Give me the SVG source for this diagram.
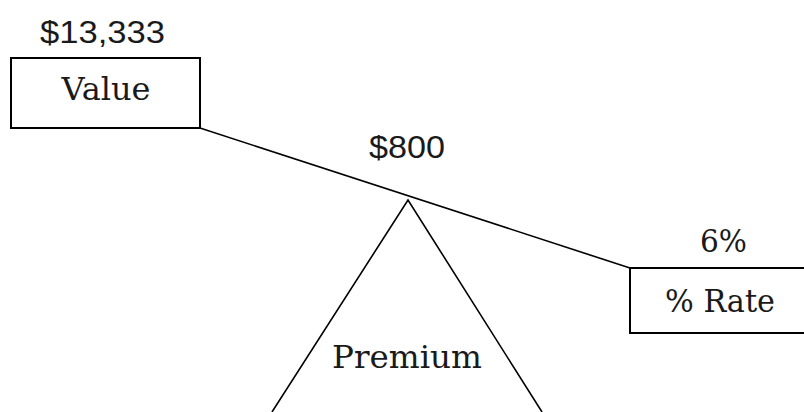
<svg xmlns="http://www.w3.org/2000/svg" width="804" height="412" viewBox="0 0 804 412">
<style>
.box{fill:#fff;stroke:#000;stroke-width:2}
.ln{fill:none;stroke:#000;stroke-width:1.6}
.serif{font-family:"DejaVu Serif","Liberation Serif",serif;font-size:32px;fill:#1a1a1a}
.sans{font-family:"Liberation Sans",Arial,sans-serif;font-size:32px;fill:#1a1a1a}
</style>
<rect width="804" height="412" fill="#fff"/>
<g id="connectors">
<line class="ln" x1="200" y1="128" x2="630" y2="268"/>
<polyline class="ln" points="272,412 408,200 542,412"/>
</g>
<g id="value">
<rect class="box" x="11" y="58" width="189" height="70"/>
<text class="serif" x="106" y="100" text-anchor="middle">Value</text>
<text class="sans" x="40" y="43" textLength="125" lengthAdjust="spacingAndGlyphs">$13,333</text>
</g>
<g id="premium">
<text class="sans" x="369" y="158" textLength="76" lengthAdjust="spacingAndGlyphs">$800</text>
<text class="serif" x="332" y="368" textLength="150" lengthAdjust="spacingAndGlyphs">Premium</text>
</g>
<g id="rate">
<rect class="box" x="630" y="268" width="180" height="65"/>
<text class="serif" x="665" y="312" textLength="110" lengthAdjust="spacingAndGlyphs">% Rate</text>
<text class="serif" x="700" y="252" textLength="47" lengthAdjust="spacingAndGlyphs">6%</text>
</g>
</svg>
